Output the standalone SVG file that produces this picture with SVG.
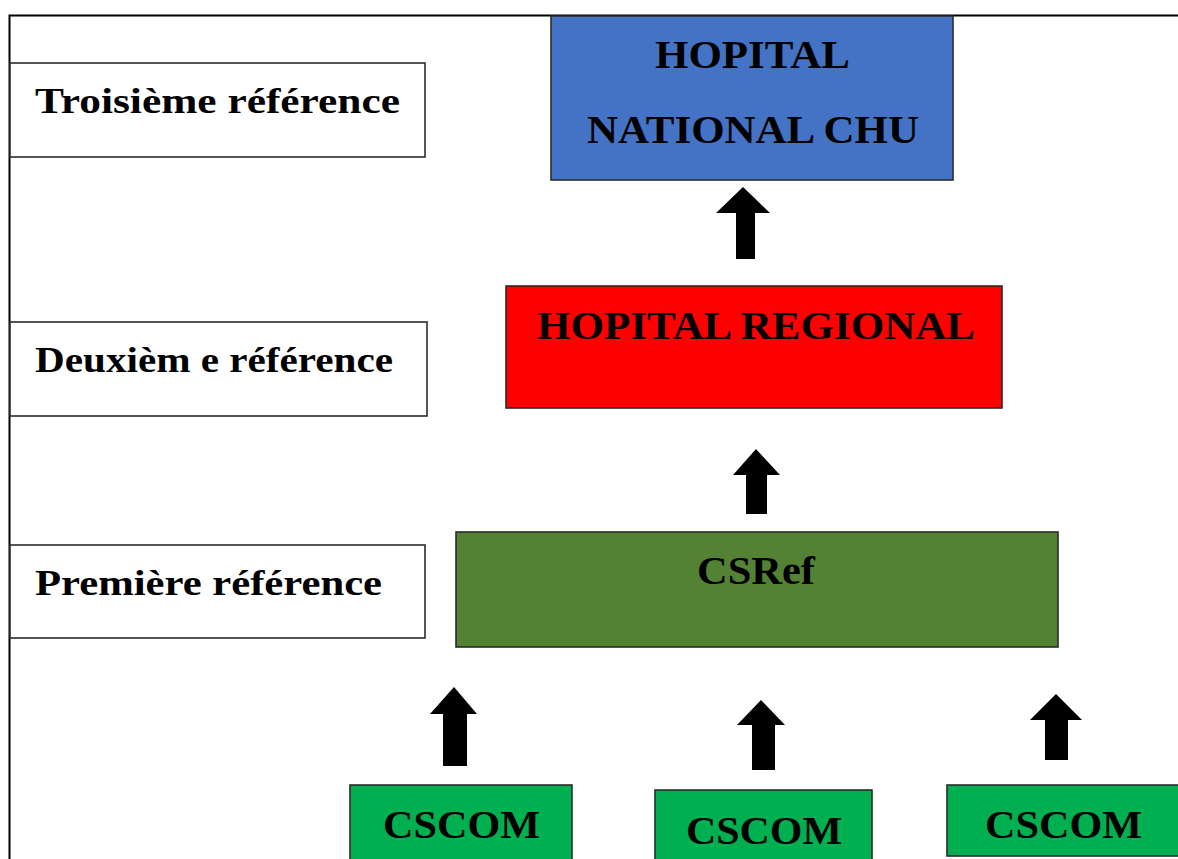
<svg xmlns="http://www.w3.org/2000/svg" width="1178" height="859" viewBox="0 0 1178 859">
<style>
.box{stroke:#2b2b2b;stroke-width:1.6}
.lbl{fill:#fff}
.t{font-family:"Liberation Serif","Times New Roman",serif;font-weight:bold;fill:#000}
.arr{fill:#000}
</style>
<rect width="1178" height="859" fill="#fff"/>
<path d="M9.5 859 V15.5 H1178" fill="none" stroke="#000" stroke-width="2"/>
<g id="label3">
<rect class="box lbl" x="10" y="63" width="415" height="94"/>
<text class="t" x="35" y="113" font-size="36" textLength="365" lengthAdjust="spacingAndGlyphs">Troisième référence</text>
</g>
<g id="label2">
<rect class="box lbl" x="10" y="322" width="417" height="94"/>
<text class="t" x="35" y="372" font-size="36" textLength="358" lengthAdjust="spacingAndGlyphs">Deuxièm e référence</text>
</g>
<g id="label1">
<rect class="box lbl" x="10" y="545" width="415" height="93"/>
<text class="t" x="35" y="595" font-size="36" textLength="347" lengthAdjust="spacingAndGlyphs">Première référence</text>
</g>
<g id="chu">
<rect class="box" x="551" y="16" width="402" height="164" fill="#4472C4"/>
<text class="t" x="655" y="68" font-size="39" textLength="195" lengthAdjust="spacingAndGlyphs">HOPITAL</text>
<text class="t" x="587" y="143" font-size="39" textLength="332" lengthAdjust="spacingAndGlyphs">NATIONAL CHU</text>
</g>
<g id="regional">
<rect class="box" x="506" y="286" width="496" height="122" fill="#FF0000"/>
<text class="t" x="537" y="339" font-size="39" textLength="438" lengthAdjust="spacingAndGlyphs">HOPITAL REGIONAL</text>
</g>
<g id="csref">
<rect class="box" x="456" y="532" width="602" height="115" fill="#548235"/>
<text class="t" x="697" y="584" font-size="39" textLength="118" lengthAdjust="spacingAndGlyphs">CSRef</text>
</g>
<g id="cscom1">
<rect class="box" x="350" y="785" width="222" height="80" fill="#00B050"/>
<text class="t" x="383" y="838" font-size="40" textLength="157" lengthAdjust="spacingAndGlyphs">CSCOM</text>
</g>
<g id="cscom2">
<rect class="box" x="655" y="790" width="217" height="75" fill="#00B050"/>
<text class="t" x="686" y="844" font-size="40" textLength="156" lengthAdjust="spacingAndGlyphs">CSCOM</text>
</g>
<g id="cscom3">
<rect class="box" x="947" y="785" width="240" height="71" fill="#00B050"/>
<text class="t" x="985" y="838" font-size="40" textLength="157" lengthAdjust="spacingAndGlyphs">CSCOM</text>
</g>
<g id="connectors">
<polygon class="arr" points="743,187 770,213 755,213 755,259 736,259 736,213 716,213"/>
<polygon class="arr" points="756,449 780,475 767,475 767,514 746,514 746,475 733,475"/>
<polygon class="arr" points="454,687 477,714 467,714 467,766 443,766 443,714 430,714"/>
<polygon class="arr" points="761,700 785,725 775,725 775,770 752,770 752,725 737,725"/>
<polygon class="arr" points="1056,694 1082,720 1068,720 1068,760 1045,760 1045,720 1030,720"/>
</g>
</svg>
